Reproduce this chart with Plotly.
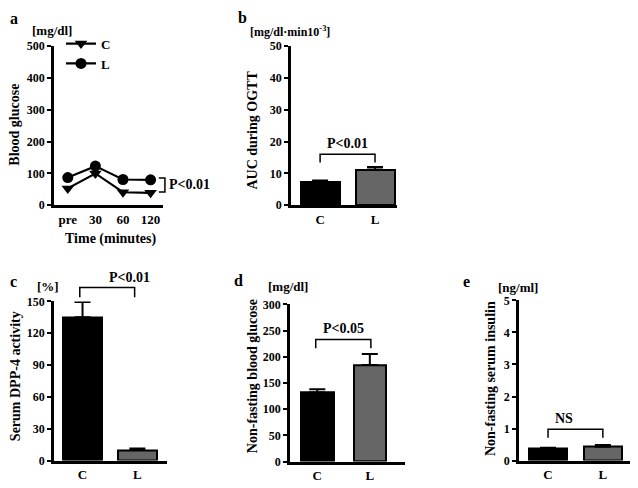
import plotly.graph_objects as go

# the page places the figure 8 px from the top-left corner, so the figure is
# made 8 px smaller and all layout positions below are given in window pixels
OFF = 8
W, H = 638 - OFF, 488 - OFF

# ---------------- data ----------------
time_labels = ["pre", "30", "60", "120"]
glucose_C = [53, 100, 41, 39]
glucose_L = [87, 123, 81, 80]

groups = ["C", "L"]
auc_mean = [7.3, 11.2]
auc_err = [0.5, 0.8]
dpp4_mean = [135, 10]
dpp4_err = [14.5, 1.5]
nfbg_mean = [132, 184]
nfbg_err = [6, 21]
insulin_mean = [0.37, 0.43]
insulin_err = [0.03, 0.06]

FONT = "Liberation Serif"
GRAY = "#666666"


def fx(px):
    return (px - OFF) / W


def fy(py):
    return 1 - (py - OFF) / H


# panel geometry (window pixels)
panels = {
    "a": dict(px=(54, 163), py=(40, 204), xr=(-0.5, 3.45), yr=(0, 500), dt=100),
    "b": dict(px=(291, 397), py=(40, 204), xr=(-0.53, 1.4), yr=(0, 50), dt=10),
    "c": dict(px=(54, 167), py=(303, 467), xr=(-0.52, 1.54), yr=(0, 150), dt=30),
    "d": dict(px=(290, 405), py=(306, 468), xr=(-0.52, 1.67), yr=(0, 300), dt=50),
    "e": dict(px=(519, 633), py=(302, 467), xr=(-0.53, 1.55), yr=(0, 5), dt=1),
}
order = ["a", "b", "c", "d", "e"]


def to_paper(p, x, y):
    g = panels[p]
    x0, x1 = fx(g["px"][0]), fx(g["px"][1])
    y0, y1 = fy(g["py"][1]), fy(g["py"][0])
    xp = x0 + (x - g["xr"][0]) / (g["xr"][1] - g["xr"][0]) * (x1 - x0)
    yp = y0 + (y - g["yr"][0]) / (g["yr"][1] - g["yr"][0]) * (y1 - y0)
    return xp, yp


fig = go.Figure()

# panel a lines
fig.add_trace(go.Scatter(
    x=time_labels, y=glucose_C, name="<b>C</b>", mode="lines+markers",
    line=dict(color="black", width=2.2),
    marker=dict(symbol="triangle-down", size=11, color="black"),
    xaxis="x", yaxis="y"))
fig.add_trace(go.Scatter(
    x=time_labels, y=glucose_L, name="<b>L</b>", mode="lines+markers",
    line=dict(color="black", width=2.2),
    marker=dict(symbol="circle", size=11, color="black"),
    xaxis="x", yaxis="y"))


def add_bars(idx, means, errs, width):
    fig.add_trace(go.Bar(
        x=groups, y=means, width=width,
        marker=dict(color=["black", GRAY], line=dict(color="black", width=2)),
        error_y=dict(type="data", array=errs, arrayminus=[0, 0], symmetric=False,
                     color="black", thickness=2, width=8),
        showlegend=False,
        xaxis="x" + idx, yaxis="y" + idx))


add_bars("2", auc_mean, auc_err, 0.71)
add_bars("3", dpp4_mean, dpp4_err, 0.71)
add_bars("4", nfbg_mean, nfbg_err, 0.62)
add_bars("5", insulin_mean, insulin_err, 0.69)

layout = dict(
    width=W, height=H, margin=dict(l=0, r=0, t=0, b=0),
    plot_bgcolor="white", paper_bgcolor="white",
    font=dict(family=FONT, color="black", size=12, weight="bold"),
    bargap=0,
    legend=dict(x=fx(61), y=fy(22), xanchor="left", yanchor="top",
                font=dict(family=FONT, size=13, weight="bold"),
                bgcolor="rgba(0,0,0,0)", itemwidth=30, tracegroupgap=0),
)

for i, p in enumerate(order):
    g = panels[p]
    sfx = "" if i == 0 else str(i + 1)
    layout["xaxis" + sfx] = dict(
        domain=[fx(g["px"][0]), fx(g["px"][1])], range=list(g["xr"]),
        anchor="y" + sfx, showline=True, linecolor="black", linewidth=2.5,
        ticks="", showgrid=False, zeroline=False, fixedrange=True,
        tickfont=dict(family=FONT, size=13, weight="bold"))
    layout["yaxis" + sfx] = dict(
        domain=[fy(g["py"][1]), fy(g["py"][0])], range=list(g["yr"]),
        dtick=g["dt"], tick0=0,
        anchor="x" + sfx, showline=True, linecolor="black", linewidth=2.5,
        ticks="outside", ticklen=4, tickwidth=2, tickcolor="black",
        showgrid=False, zeroline=False, fixedrange=True,
        tickfont=dict(family=FONT, size=12, weight="bold"))

fig.update_layout(**layout)

ann = []
shapes = []


def text(x, y, s, size=13, angle=0, xanchor="center"):
    ann.append(dict(x=fx(x), y=fy(y), xref="paper", yref="paper", text="<b>" + s + "</b>",
                    showarrow=False, textangle=angle, xanchor=xanchor, yanchor="middle",
                    font=dict(family=FONT, size=size, weight="bold", color="black")))


# panel letters
text(8, 12, "a", 16, xanchor="left")
text(242, 11, "b", 16)
text(8, 282, "c", 16, xanchor="left")
text(238, 281, "d", 16)
text(466, 282, "e", 16)

# unit labels
text(52, 24, "[mg/dl]", 13)
text(290, 25, "[mg/dl·min10<sup>-3</sup>]", 12)
text(48, 288, "[%]", 13)
text(288, 288, "[mg/dl]", 13)
text(518, 289, "[ng/ml]", 13)

# axis titles
text(15, 121, "Blood glucose", 14, -90)
text(110, 239, "Time (minutes)", 14)
text(253, 127, "AUC during OGTT", 14, -90)
text(15, 380, "Serum DPP-4 activity", 14, -90)
text(252, 380, "Non-fasting blood glucose", 14, -90)
text(490, 382, "Non-fasting serum insulin", 14, -90)


def hbracket(p, x0, x1, ytop, ybot, label):
    a0 = to_paper(p, x0, ybot)
    a1 = to_paper(p, x0, ytop)
    b1 = to_paper(p, x1, ytop)
    b0 = to_paper(p, x1, ybot)
    path = "M %f %f L %f %f L %f %f L %f %f" % (a0[0], a0[1], a1[0], a1[1],
                                                 b1[0], b1[1], b0[0], b0[1])
    shapes.append(dict(type="path", path=path, xref="paper", yref="paper",
                       line=dict(color="black", width=1.5)))
    mx = (a1[0] + b1[0]) / 2
    ann.append(dict(x=mx, y=a1[1], xref="paper", yref="paper", text="<b>" + label + "</b>",
                    showarrow=False, yanchor="bottom", yshift=1,
                    font=dict(family=FONT, size=14, weight="bold", color="black")))


hbracket("b", 0, 1, 16, 13.4, "P<0.01")
hbracket("c", -0.05, 0.95, 163, 154, "P<0.01")
hbracket("d", -0.03, 1.02, 233, 216, "P<0.05")
hbracket("e", 0, 1, 0.98, 0.71, "NS")

# panel a vertical bracket
p0 = to_paper("a", 3.3, 86)
p1 = to_paper("a", 3.52, 86)
p2 = to_paper("a", 3.52, 42)
p3 = to_paper("a", 3.3, 42)
shapes.append(dict(type="path", xref="paper", yref="paper",
                   path="M %f %f L %f %f L %f %f L %f %f" % (p0[0], p0[1], p1[0], p1[1],
                                                             p2[0], p2[1], p3[0], p3[1]),
                   line=dict(color="black", width=1.5)))
pt = to_paper("a", 3.6, 64)
ann.append(dict(x=pt[0], y=pt[1], xref="paper", yref="paper", text="<b>P<0.01</b>",
                showarrow=False, xanchor="left", yanchor="middle",
                font=dict(family=FONT, size=14, weight="bold", color="black")))

fig.update_layout(annotations=ann, shapes=shapes)
fig.write_html("out.html")
